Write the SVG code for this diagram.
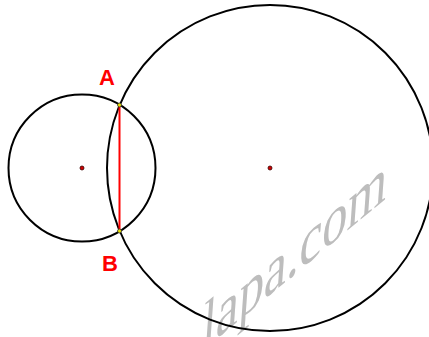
<svg xmlns="http://www.w3.org/2000/svg" width="429" height="337" viewBox="0 0 429 337">
<style>
.c{fill:none;stroke:#000;stroke-width:2}
.ctr{fill:#d00000;stroke:#300;stroke-width:0.8}
.pt{fill:#e8e000;stroke:#333;stroke-width:0.8}
.lbl{font-family:"Liberation Sans",Arial,sans-serif;font-weight:bold;font-size:22px;fill:#ff0000}
.wm{font-family:"Liberation Serif","Times New Roman",serif;font-size:62px;fill:#bdbdbd}
</style>
<rect width="429" height="337" fill="#fff"/>
<text class="wm" transform="matrix(0.82,-0.68,-0.08,1.12,201,352)">lapa.com</text>
<g id="small-circle">
<circle class="c" cx="82" cy="168" r="73.5"/>
<circle class="ctr" cx="82" cy="168" r="2"/>
</g>
<g id="big-circle">
<circle class="c" cx="270" cy="168" r="163"/>
<circle class="ctr" cx="270" cy="168" r="2"/>
</g>
<g id="connectors">
<line x1="119.5" y1="105" x2="119.5" y2="231" stroke="#ff0000" stroke-width="2"/>
</g>
<g id="A">
<circle class="pt" cx="119.5" cy="105" r="2"/>
<text class="lbl" x="99" y="85">A</text>
</g>
<g id="B">
<circle class="pt" cx="119.5" cy="231" r="2"/>
<text class="lbl" x="102" y="271">B</text>
</g>
</svg>
